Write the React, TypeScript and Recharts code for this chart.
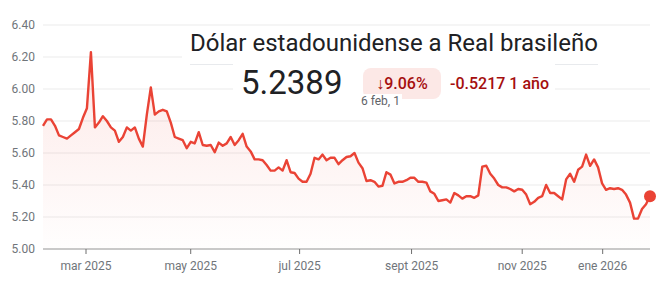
import { Area, CartesianGrid, ComposedChart, ReferenceDot, XAxis, YAxis } from "recharts";

// daily USD/BRL closes, 6 feb 2025 .. 6 feb 2026
const rates = [
  5.77, 5.81, 5.81, 5.77, 5.71, 5.7, 5.69, 5.71, 5.73, 5.75, 5.82, 5.88, 6.23, 5.76, 5.79, 5.83, 5.8, 5.76, 5.74, 5.67,
  5.7, 5.76, 5.74, 5.76, 5.69, 5.64, 5.84, 6.01, 5.84, 5.86, 5.87, 5.86, 5.79, 5.7, 5.69, 5.68, 5.63, 5.67, 5.66, 5.73,
  5.65, 5.645, 5.65, 5.605, 5.665, 5.645, 5.66, 5.7, 5.65, 5.68, 5.72, 5.64, 5.61, 5.56, 5.56, 5.555, 5.525, 5.49, 5.49, 5.51,
  5.49, 5.555, 5.48, 5.475, 5.44, 5.42, 5.42, 5.47, 5.57, 5.56, 5.59, 5.555, 5.57, 5.57, 5.53, 5.555, 5.575, 5.58, 5.6, 5.54,
  5.505, 5.425, 5.43, 5.42, 5.39, 5.395, 5.48, 5.465, 5.41, 5.42, 5.42, 5.43, 5.445, 5.445, 5.42, 5.42, 5.415, 5.36, 5.345, 5.3,
  5.305, 5.31, 5.29, 5.35, 5.335, 5.315, 5.33, 5.33, 5.32, 5.335, 5.515, 5.52, 5.47, 5.44, 5.4, 5.385, 5.385, 5.375, 5.36, 5.375,
  5.37, 5.34, 5.28, 5.295, 5.32, 5.33, 5.4, 5.35, 5.35, 5.33, 5.31, 5.435, 5.47, 5.42, 5.495, 5.515, 5.59, 5.52, 5.56, 5.51,
  5.41, 5.37, 5.38, 5.375, 5.38, 5.37, 5.34, 5.29, 5.19, 5.19, 5.25, 5.28, 5.33,
];
const monthTickIdx = [10.77, 36.99, 64.26, 92.29, 120.0, 140.15];
const monthLabels = ["mar 2025", "may 2025", "jul 2025", "sept 2025", "nov 2025", "ene 2026"];
const rateTicks = [5.0, 5.2, 5.4, 5.6, 5.8, 6.0, 6.2, 6.4];

const RED = "#ea4335";
const DARK_RED = "#a50e0e";
const INK = "#202124";
const MUTED = "#70757a";
const FONT = "Roboto, 'Noto Sans', sans-serif";

export default function App() {
  const data = rates.map((rate, i) => ({ i, rate }));
  const last = data[data.length - 1];

  return (
    <div style={{ position: "absolute", left: 0, top: 0, width: 666, height: 290, background: "#fff", fontFamily: FONT, overflow: "hidden" }}>
      <ComposedChart width={666} height={290} data={data} margin={{ top: 25, right: 16, bottom: 11, left: 0 }}>
        <defs>
          <linearGradient id="brlFill" x1="0" x2="0" y1="0" y2="1">
            <stop offset="0%" stopColor={RED} stopOpacity={0.2} />
            <stop offset="100%" stopColor={RED} stopOpacity={0.01} />
          </linearGradient>
        </defs>
        <CartesianGrid stroke="#ebebeb" vertical={false} />
        <XAxis
          dataKey="i"
          type="number"
          domain={[0, rates.length - 1]}
          ticks={monthTickIdx}
          tickFormatter={(v) => monthLabels[monthTickIdx.indexOf(v)] ?? ""}
          height={30}
          tickSize={5}
          tickMargin={7}
          stroke="#9e9e9e"
          tickLine={{ stroke: "#6f6f6f" }}
          tick={{ fill: MUTED, fontSize: 12, fontFamily: FONT }}
        />
        <YAxis
          width={43}
          domain={[5, 6.4]}
          ticks={rateTicks}
          tickFormatter={(v) => Number(v).toFixed(2)}
          axisLine={false}
          tickLine={false}
          tick={{ fill: MUTED, fontSize: 12, fontFamily: FONT }}
        />
        <Area type="linear" dataKey="rate" stroke={RED} strokeWidth={2.4} strokeLinejoin="round" fill="url(#brlFill)" isAnimationActive={false} dot={false} activeDot={false} />
        <ReferenceDot x={last.i} y={last.rate} r={6} fill={RED} stroke="none" />
      </ComposedChart>

      {/* header laid over the plot */}
      <div style={{ position: "absolute", left: 182, top: 28, width: 473, height: 34, background: "#fff" }}>
        <div style={{ position: "absolute", left: 8, top: 0, fontSize: 24, color: INK, whiteSpace: "nowrap", lineHeight: "30px" }}>Dólar estadounidense a Real brasileño</div>
      </div>
      <div style={{ position: "absolute", left: 190, top: 64, width: 408, height: 1, background: "#e8eaed" }} />
      <div style={{ position: "absolute", left: 233, top: 63, width: 322, height: 40, background: "#fff" }}>
        <div style={{ position: "absolute", left: 8, top: 0, fontSize: 33, color: INK, lineHeight: "40px" }}>5.2389</div>
        <div style={{ position: "absolute", left: 130, top: 5, width: 78, height: 31, borderRadius: 8, background: "#fce8e6", color: DARK_RED, fontSize: 16, fontWeight: 500, lineHeight: "31px", textAlign: "center" }}>↓9.06%</div>
        <div style={{ position: "absolute", left: 217, top: 5, fontSize: 16, fontWeight: 500, color: DARK_RED, lineHeight: "31px", whiteSpace: "nowrap" }}>-0.5217 1 año</div>
      </div>
      <div style={{ position: "absolute", left: 361, top: 94, height: 14, paddingRight: 2, background: "#fff", whiteSpace: "nowrap", fontSize: 12, lineHeight: "14px", color: "#5f6368" }}>6 feb, 1</div>
    </div>
  );
}
